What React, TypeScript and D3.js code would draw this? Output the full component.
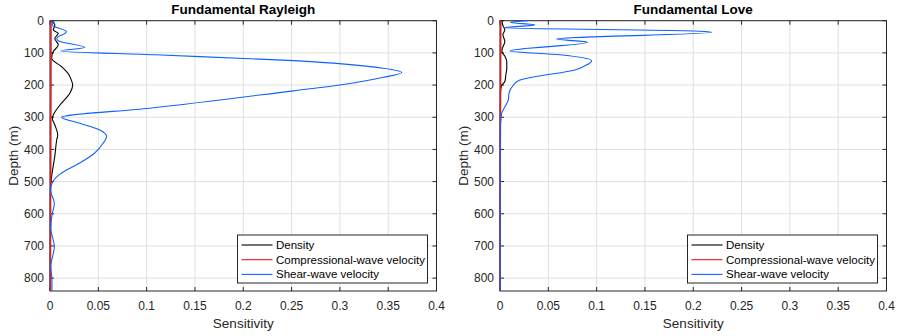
import React from "react";
import * as d3 from "d3";

// ---- Data (depth in m, sensitivity) ----
const rayleighDensityDepth = [0, 13, 29, 39, 55, 75, 96, 117, 143, 165, 184, 200, 225, 262, 293, 303, 324, 355, 370, 420, 484, 520, 840];
const rayleighDensityValue = [0.001, 0.005, 0.0034, 0.0086, 0.005, 0.0086, 0.0034, 0.0017, 0.012, 0.019, 0.022, 0.0235, 0.0207, 0.0103, 0.0034, 0.0024, 0.005, 0.008, 0.007, 0.005, 0.0017, 0.0005, 0.0003];

const rayleighPDepth = [0, 200, 400, 600, 840];
const rayleighPValue = [0.001, 0.001, 0.0008, 0.0006, 0.0005];

const rayleighSDepth = [0, 4, 13, 34, 55, 63, 83, 94, 106, 124, 148, 161, 176, 200, 218, 272, 300, 319, 339, 360, 381, 412, 433, 450, 464, 480, 500, 526, 567, 605, 645, 702, 764, 805, 840];
const rayleighSValue = [0.001, 0.0045, 0.002, 0.017, 0.007, 0.009, 0.036, 0.011, 0.109, 0.252, 0.345, 0.364, 0.345, 0.3, 0.252, 0.103, 0.012, 0.031, 0.051, 0.0586, 0.055, 0.046, 0.036, 0.026, 0.017, 0.009, 0.003, 0.0005, 0.0045, 0.002, 0.0008, 0.0045, 0.0008, 0.002, 0.002];

const loveDensityDepth = [0, 15, 29, 43, 65, 86, 96, 110, 127, 148, 170, 189, 200, 220, 840];
const loveDensityValue = [0.002, 0.003, 0.005, 0.003, 0.005, 0.0024, 0.002, 0.005, 0.007, 0.007, 0.006, 0.005, 0.002, 0.0005, 0.0002];

const lovePDepth = [0, 200, 400, 840];
const lovePValue = [0.0008, 0.0006, 0.0003, 0.0002];

const loveSDepth = [0, 5, 13, 22, 32, 36, 57, 67, 94, 106, 125, 140, 153, 169, 174, 185, 200, 226, 246, 267, 288, 308, 330, 840];
const loveSValue = [0.029, 0.0103, 0.036, 0.0034, 0.2016, 0.219, 0.0586, 0.0907, 0.0103, 0.062, 0.0948, 0.088, 0.0776, 0.0465, 0.036, 0.02, 0.0138, 0.0093, 0.0086, 0.0052, 0.0017, 0.001, 0.0003, 0.0002];

const xTicks = [0, 0.05, 0.1, 0.15, 0.2, 0.25, 0.3, 0.35, 0.4];
const yTicks = [0, 100, 200, 300, 400, 500, 600, 700, 800];
const seriesNames = ["Density", "Compressional-wave velocity", "Shear-wave velocity"];
const seriesColors = ["#000000", "#e01b1b", "#0f62ff"];

const panels = [
  {
    title: "Fundamental Rayleigh",
    left: 50,
    series: [
      [rayleighDensityDepth, rayleighDensityValue],
      [rayleighPDepth, rayleighPValue],
      [rayleighSDepth, rayleighSValue],
    ],
  },
  {
    title: "Fundamental Love",
    left: 500,
    series: [
      [loveDensityDepth, loveDensityValue],
      [lovePDepth, lovePValue],
      [loveSDepth, loveSValue],
    ],
  },
];

const W = 386.5;
const TOP = 20.7;
const BOTTOM = 291;
const FONT = "'Liberation Sans', Arial, Helvetica, sans-serif";
const AX = "#262626";

function Panel({ p }: { p: any }) {
  const x = d3.scaleLinear().domain([0, 0.4]).range([p.left, p.left + W]);
  const y = d3.scaleLinear().domain([0, 840]).range([TOP, BOTTOM]);
  const line = d3
    .line<[number, number]>()
    .x((d) => x(d[1]))
    .y((d) => y(d[0]))
    .curve(d3.curveMonotoneY);
  const cx = p.left + W / 2;
  const lgX = p.left + 187.5;
  const lgY = 235;
  return (
    <g>
      {/* grid */}
      {xTicks.map((t) => (
        <line key={"gx" + t} x1={x(t)} x2={x(t)} y1={TOP} y2={BOTTOM} stroke="#e0e0e0" strokeWidth={1} />
      ))}
      {yTicks.map((t) => (
        <line key={"gy" + t} x1={p.left} x2={p.left + W} y1={y(t)} y2={y(t)} stroke="#e0e0e0" strokeWidth={1} />
      ))}
      {/* box */}
      <rect x={p.left} y={TOP} width={W} height={BOTTOM - TOP} fill="none" stroke={AX} strokeWidth={1} />
      {/* ticks */}
      {xTicks.map((t) => (
        <g key={"tx" + t}>
          <line x1={x(t)} x2={x(t)} y1={BOTTOM} y2={BOTTOM - 4} stroke={AX} />
          <line x1={x(t)} x2={x(t)} y1={TOP} y2={TOP + 4} stroke={AX} />
          <text x={x(t)} y={310} textAnchor="middle" fontSize={12} fill={AX} fontFamily={FONT}>
            {String(t)}
          </text>
        </g>
      ))}
      {yTicks.map((t) => (
        <g key={"ty" + t}>
          <line x1={p.left} x2={p.left + 4} y1={y(t)} y2={y(t)} stroke={AX} />
          <line x1={p.left + W} x2={p.left + W - 4} y1={y(t)} y2={y(t)} stroke={AX} />
          <text x={p.left - 6} y={y(t) + 4.2} textAnchor="end" fontSize={12} fill={AX} fontFamily={FONT}>
            {String(t)}
          </text>
        </g>
      ))}
      {/* series */}
      {p.series.map((s: any, i: number) => {
        const pts: [number, number][] = s[0].map((d: number, k: number) => [d, s[1][k]]);
        return <path key={"s" + i} d={line(pts) || ""} fill="none" stroke={seriesColors[i]} strokeWidth={i === 1 ? 1.5 : 1.1} />;
      })}
      {/* labels */}
      <text x={cx} y={14} textAnchor="middle" fontSize={13.5} fontWeight="bold" fill="#000" fontFamily={FONT}>
        {p.title}
      </text>
      <text x={cx} y={328} textAnchor="middle" fontSize={13.5} fill={AX} fontFamily={FONT}>
        Sensitivity
      </text>
      <text
        transform={`translate(${p.left - 32},${(TOP + BOTTOM) / 2}) rotate(-90)`}
        textAnchor="middle"
        fontSize={13.5}
        fill={AX}
        fontFamily={FONT}
      >
        Depth (m)
      </text>
      {/* legend */}
      <rect x={lgX} y={lgY} width={190} height={48} fill="#fff" stroke={AX} strokeWidth={1} />
      {seriesNames.map((n, i) => (
        <g key={"lg" + i}>
          <line x1={lgX + 4} x2={lgX + 35} y1={lgY + 10 + i * 14.7} y2={lgY + 10 + i * 14.7} stroke={seriesColors[i]} strokeWidth={1.1} />
          <text x={lgX + 38.5} y={lgY + 14 + i * 14.7} fontSize={11.5} fill="#000" fontFamily={FONT}>
            {n}
          </text>
        </g>
      ))}
    </g>
  );
}

export default function App() {
  return (
    <svg width={899} height={336} style={{ position: "absolute", left: 0, top: 0, background: "#fff" }}>
      <rect x={0} y={0} width={899} height={336} fill="#fff" />
      {panels.map((p) => (
        <Panel key={p.title} p={p} />
      ))}
    </svg>
  );
}
